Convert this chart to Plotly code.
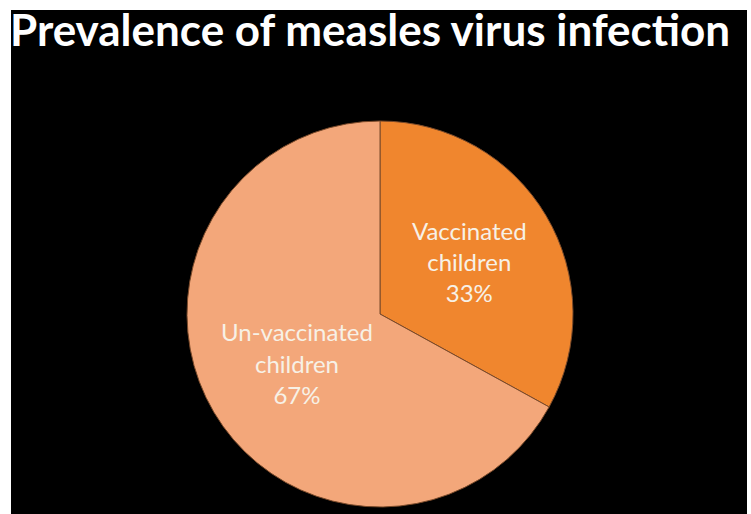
import plotly.graph_objects as go

categories = ["Vaccinated<br>children", "Un-vaccinated<br>children"]
values = [33, 67]
colors = ["#F0862E", "#F3A77A"]
title_text = "Prevalence of measles virus infection"

W, H = 751, 514

fig = go.Figure()
fig.add_trace(go.Pie(
    labels=categories,
    values=values,
    sort=False,
    direction="clockwise",
    rotation=0,
    marker=dict(colors=colors, line=dict(color="#7A4A2A", width=1)),
    texttemplate="%{label}<br>%{percent:.0%}",
    textposition="inside",
    insidetextorientation="horizontal",
    textfont=dict(family="Lato, sans-serif", size=24, color="#F7F1E6"),
    hoverinfo="label+percent",
    showlegend=False,
    domain=dict(x=[187 / W, 573 / W], y=[6 / H, 394 / H]),
))

fig.update_layout(
    width=W, height=H,
    margin=dict(l=0, r=0, t=0, b=0),
    paper_bgcolor="white",
    shapes=[dict(type="rect", xref="paper", yref="paper",
                 x0=11 / W, x1=747 / W, y0=0, y1=1 - 10 / H,
                 fillcolor="black", line=dict(width=0), layer="below")],
    annotations=[dict(text="<b>" + title_text + "</b>", xref="paper", yref="paper",
                      x=8 / W, y=1 - 1 / H, xanchor="left", yanchor="top",
                      showarrow=False,
                      font=dict(family="Lato, sans-serif", size=44, color="white"))],
)

fig.write_html("out.html", config={"displayModeBar": False},
               post_script="document.body.style.margin='0px';")
